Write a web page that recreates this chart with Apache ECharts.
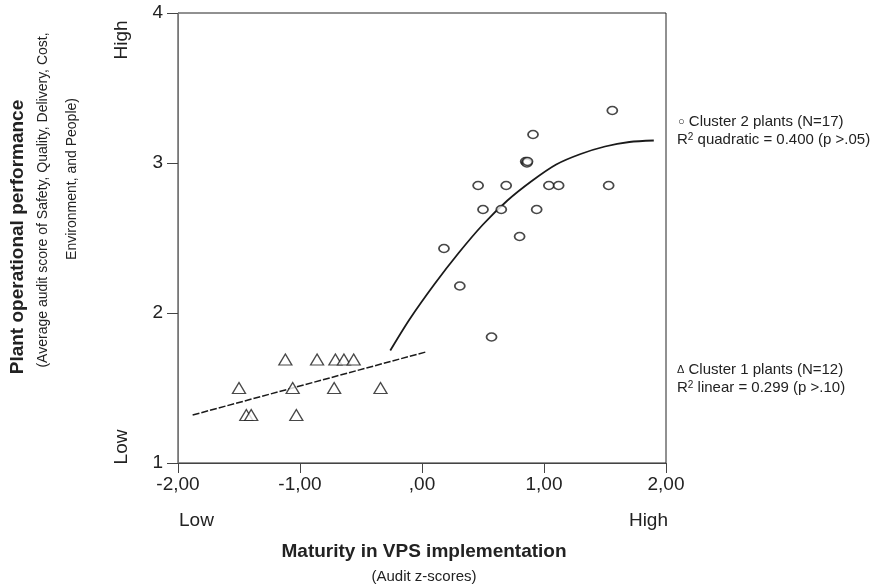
<!DOCTYPE html>
<html>
<head>
<meta charset="utf-8">
<script src="https://cdn.jsdelivr.net/npm/echarts@6/dist/echarts.min.js"></script>
<style>
html, body { margin: 0; padding: 0; background: #fff; }
#chart { width: 874px; height: 584px; }
</style>
</head>
<body>
<div id="chart"></div>
<script>
// cluster 1 plants (triangles)
var cluster1X = [-1.12, -0.86, -0.71, -0.64, -0.56, -1.50, -1.06, -0.72, -0.34, -1.44, -1.40, -1.03];
var cluster1Y = [1.69, 1.69, 1.69, 1.69, 1.69, 1.50, 1.50, 1.50, 1.50, 1.32, 1.32, 1.32];
// cluster 2 plants (circles)
var cluster2X = [1.56, 0.91, 0.85, 0.86, 0.865, 0.46, 0.69, 1.04, 1.12, 1.53, 0.50, 0.65, 0.94, 0.80, 0.18, 0.31, 0.57];
var cluster2Y = [3.35, 3.19, 3.01, 3.00, 3.01, 2.85, 2.85, 2.85, 2.85, 2.85, 2.69, 2.69, 2.69, 2.51, 2.43, 2.18, 1.84];
// fit lines
var linearX = [-1.88, 0.03];
var linearY = [1.32, 1.74];
var quadX = [-0.26, -0.10, 0.10, 0.30, 0.50, 0.70, 0.90, 1.10, 1.30, 1.50, 1.70, 1.90];
var quadY = [1.75, 1.96, 2.19, 2.40, 2.59, 2.75, 2.88, 2.99, 3.06, 3.11, 3.14, 3.15];
var xTickLabels = {"-2": "-2,00", "-1": "-1,00", "0": ",00", "1": "1,00", "2": "2,00"};

function pairs(xs, ys) {
  return xs.map(function (x, i) { return [x, ys[i]]; });
}

var font = "'Liberation Sans', Arial, sans-serif";
var ink = "#1a1a1a";

var myChart = echarts.init(document.getElementById("chart"));
myChart.setOption({
  animation: false,
  backgroundColor: "#fff",
  textStyle: { fontFamily: font },
  grid: {
    left: 178, right: 208, top: 13, bottom: 121,
    show: true, borderColor: "#222", borderWidth: 1
  },
  xAxis: {
    type: "value", min: -2, max: 2, interval: 1,
    splitLine: { show: false },
    axisLine: { onZero: false, lineStyle: { color: "#444", width: 1 } },
    axisTick: { show: true, length: 10, lineStyle: { color: "#444" } },
    axisLabel: {
      margin: 12, fontSize: 19, color: "#222", fontFamily: font,
      formatter: function (v) { return xTickLabels[String(v)]; }
    }
  },
  yAxis: {
    type: "value", min: 1, max: 4, interval: 1,
    splitLine: { show: false },
    axisLine: { show: true, onZero: false, lineStyle: { color: "#777", width: 1 } },
    axisTick: { show: true, length: 11, lineStyle: { color: "#444" } },
    axisLabel: { margin: 15, fontSize: 19, color: "#222", fontFamily: font }
  },
  series: [
    {
      name: "Cluster 1", type: "scatter", symbol: "triangle", symbolSize: [13, 11],
      itemStyle: { color: "#fff", borderColor: ink, borderWidth: 1.3 },
      data: pairs(cluster1X, cluster1Y), z: 3
    },
    {
      name: "Cluster 2", type: "scatter", symbol: "circle", symbolSize: [10, 8],
      itemStyle: { color: "#fff", borderColor: ink, borderWidth: 1.6 },
      data: pairs(cluster2X, cluster2Y), z: 3
    },
    {
      name: "Linear", type: "line", showSymbol: false, symbol: "none",
      lineStyle: { color: ink, width: 1.5, type: [7, 2] },
      data: pairs(linearX, linearY), z: 2
    },
    {
      name: "Quadratic", type: "line", showSymbol: false, symbol: "none", smooth: 0.3,
      lineStyle: { color: ink, width: 1.8 },
      data: pairs(quadX, quadY), z: 2
    }
  ],
  graphic: [
    // y axis titles
    { type: "text", x: 18, y: 237, rotation: Math.PI / 2,
      style: { text: "Plant operational performance", font: "bold 19px " + font, fill: "#222", align: "center", verticalAlign: "middle" } },
    { type: "text", x: 43, y: 200, rotation: Math.PI / 2,
      style: { text: "(Average audit score of Safety, Quality, Delivery, Cost,", font: "14px " + font, fill: "#222", align: "center", verticalAlign: "middle" } },
    { type: "text", x: 72, y: 179, rotation: Math.PI / 2,
      style: { text: "Environment, and People)", font: "14px " + font, fill: "#222", align: "center", verticalAlign: "middle" } },
    { type: "text", x: 122, y: 40, rotation: Math.PI / 2,
      style: { text: "High", font: "19px " + font, fill: "#222", align: "center", verticalAlign: "middle" } },
    { type: "text", x: 122, y: 447, rotation: Math.PI / 2,
      style: { text: "Low", font: "19px " + font, fill: "#222", align: "center", verticalAlign: "middle" } },
    // x axis titles
    { type: "text", x: 179, y: 521,
      style: { text: "Low", font: "19px " + font, fill: "#222", align: "left", verticalAlign: "middle" } },
    { type: "text", x: 668, y: 521,
      style: { text: "High", font: "19px " + font, fill: "#222", align: "right", verticalAlign: "middle" } },
    { type: "text", x: 424, y: 552,
      style: { text: "Maturity in VPS implementation", font: "bold 19px " + font, fill: "#222", align: "center", verticalAlign: "middle" } },
    { type: "text", x: 424, y: 577,
      style: { text: "(Audit z-scores)", font: "15px " + font, fill: "#222", align: "center", verticalAlign: "middle" } },
    // fit notes on the right
    { type: "text", x: 678, y: 122,
      style: { text: "{s|○} Cluster 2 plants (N=17)", font: "15px " + font, fill: "#222", verticalAlign: "middle",
        rich: { s: { fontSize: 11, fontFamily: font, fill: "#222" } } } },
    { type: "text", x: 677, y: 140,
      style: { text: "R{sup|2} quadratic = 0.400 (p >.05)", font: "15px " + font, fill: "#222", verticalAlign: "middle",
        rich: { sup: { fontSize: 10, fontFamily: font, fill: "#222", verticalAlign: "top", padding: [0, 0, 6, 0] } } } },
    { type: "text", x: 677, y: 370,
      style: { text: "{s|Δ} Cluster 1 plants (N=12)", font: "15px " + font, fill: "#222", verticalAlign: "middle",
        rich: { s: { fontSize: 11, fontFamily: font, fill: "#222" } } } },
    { type: "text", x: 677, y: 388,
      style: { text: "R{sup|2} linear = 0.299 (p >.10)", font: "15px " + font, fill: "#222", verticalAlign: "middle",
        rich: { sup: { fontSize: 10, fontFamily: font, fill: "#222", verticalAlign: "top", padding: [0, 0, 6, 0] } } } }
  ]
});
</script>
</body>
</html>
